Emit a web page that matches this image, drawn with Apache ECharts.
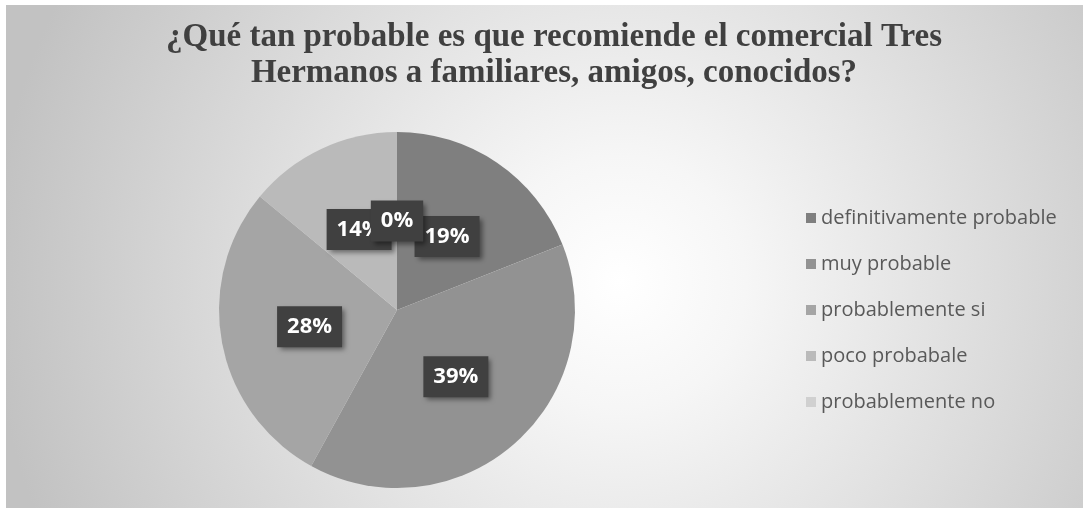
<!DOCTYPE html>
<html>
<head>
<meta charset="utf-8">
<script src="https://cdn.jsdelivr.net/npm/echarts@6/dist/echarts.min.js"></script>
<style>
html,body{margin:0;padding:0;background:#fff;}
#chart{width:1089px;height:508px;}
</style>
</head>
<body>
<div id="chart"></div>
<script>
const titleLines = ['¿Qué tan probable es que recomiende el comercial Tres', 'Hermanos a familiares, amigos, conocidos?'];
const categories = ['definitivamente probable', 'muy probable', 'probablemente si', 'poco probabale', 'probablemente no'];
const values = [19, 39, 28, 14, 0];
const colors = ['#7f7f7f', '#929292', '#a5a5a5', '#bababa', '#d0d0d0'];

const chart = echarts.init(document.getElementById('chart'), null, {renderer: 'canvas'});
const data = categories.map((c, i) => ({name: c, value: values[i], itemStyle: {color: colors[i]}}));

// label anchors: mid-angle of each slice (in value units) on a polar axis matching the pie
const total = values.reduce((a, b) => a + b, 0);
let acc = 0;
const labelPoints = values.map((v) => {
  const mid = acc + v / 2;
  acc += v;
  return [0.5, mid];
});

const CENTER = [397, 310];
const RADIUS = 178;

chart.setOption({
  animation: false,
  graphic: [{
    type: 'rect',
    z: -10,
    shape: {x: 6, y: 5, width: 1077, height: 503},
    style: {
      fill: new echarts.graphic.RadialGradient(0.57, 0.55, 1.25, [
        {offset: 0, color: '#ffffff'},
        {offset: 0.2, color: '#f6f6f6'},
        {offset: 1, color: '#c2c2c2'}
      ])
    },
    silent: true
  }],
  title: {
    text: titleLines.join('\n'),
    left: 549,
    textAlign: 'center',
    top: 14,
    textStyle: {
      fontFamily: 'Liberation Serif',
      fontWeight: 'bold',
      fontSize: 33,
      lineHeight: 36,
      color: '#404040'
    }
  },
  legend: {
    orient: 'vertical',
    left: 806,
    top: 208,
    padding: 0,
    itemWidth: 10,
    itemHeight: 10,
    itemGap: 26,
    icon: 'rect',
    data: categories,
    textStyle: {
      fontFamily: 'Open Sans',
      fontSize: 20,
      lineHeight: 20,
      color: '#595959'
    }
  },
  polar: {center: CENTER, radius: RADIUS},
  angleAxis: {type: 'value', min: 0, max: total, startAngle: 90, clockwise: true, show: false},
  radiusAxis: {type: 'value', min: 0, max: 1, show: false},
  series: [{
    type: 'pie',
    center: CENTER,
    radius: RADIUS,
    startAngle: 90,
    clockwise: true,
    avoidLabelOverlap: false,
    label: {show: false},
    labelLine: {show: false},
    emphasis: {disabled: true},
    data: data
  }, {
    type: 'scatter',
    coordinateSystem: 'polar',
    symbolSize: 0,
    silent: true,
    z: 5,
    itemStyle: {opacity: 1},
    data: labelPoints,
    label: {
      show: true,
      position: 'inside',
      formatter: (p) => values[p.dataIndex] + '%',
      fontFamily: 'Open Sans',
      fontWeight: 'bold',
      fontSize: 22,
      lineHeight: 22,
      color: '#ffffff',
      opacity: 1,
      backgroundColor: '#404040',
      padding: [10, 10, 9, 10],
      shadowColor: 'rgba(0,0,0,0.45)',
      shadowBlur: 5,
      shadowOffsetX: 3,
      shadowOffsetY: 3
    },
    labelLayout: {hideOverlap: false}
  }]
});
</script>
</body>
</html>
